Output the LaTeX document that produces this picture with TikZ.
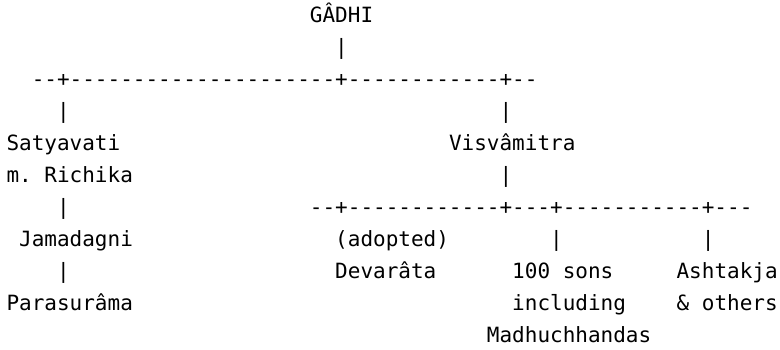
\documentclass[tikz,border=0pt]{standalone}
\usepackage{fontspec}
\setmonofont{DejaVu Sans Mono}
\newcommand\cx{12.643}
\newcommand\ry{31.9}
\tikzset{ascii/.style={anchor=base west, inner sep=0pt, outer sep=0pt,
  font=\fontsize{21pt}{21pt}\selectfont\ttfamily\frenchspacing}}
\begin{document}
\begin{tikzpicture}[x=1pt,y=1pt]
\fill[white] (0,0) rectangle (780,349);
\useasboundingbox (0,0) rectangle (780,349);
\def\P#1#2{({6.5+#1*\cx},{326-#2*\ry})}
% row 0-2
\node[ascii] (gadhi) at \P{24}{0} {GÂDHI};
\node[ascii] (v1) at \P{26}{1} {|};
\node[ascii] (bar1) at \P{2}{2} {--+---------------------+------------+--};
% row 3-5
\node[ascii] (v2) at \P{4}{3} {|};
\node[ascii] (v3) at \P{39}{3} {|};
\node[ascii] (saty) at \P{0}{4} {Satyavati};
\node[ascii] (visv) at \P{35}{4} {Visvâmitra};
\node[ascii] (rich) at \P{0}{5} {m. Richika};
\node[ascii] (v4) at \P{39}{5} {|};
% row 6
\node[ascii] (v5) at \P{4}{6} {|};
\node[ascii] (bar2) at \P{24}{6} {--+------------+---+-----------+---};
% row 7
\node[ascii] (jama) at \P{1}{7} {Jamadagni};
\node[ascii] (adop) at \P{26}{7} {(adopted)};
\node[ascii] (v6) at \P{43}{7} {|};
\node[ascii] (v7) at \P{55}{7} {|};
% row 8
\node[ascii] (v8) at \P{4}{8} {|};
\node[ascii] (deva) at \P{26}{8} {Devarâta};
\node[ascii] (sons) at \P{40}{8} {100 sons};
\node[ascii] (asht) at \P{53}{8} {Ashtakja};
% row 9
\node[ascii] (para) at \P{0}{9} {Parasurâma};
\node[ascii] (incl) at \P{40}{9} {including};
\node[ascii] (oth) at \P{53}{9} {\& others};
% row 10
\node[ascii] (madh) at \P{38}{10} {Madhuchhandas};
\end{tikzpicture}
\end{document}
